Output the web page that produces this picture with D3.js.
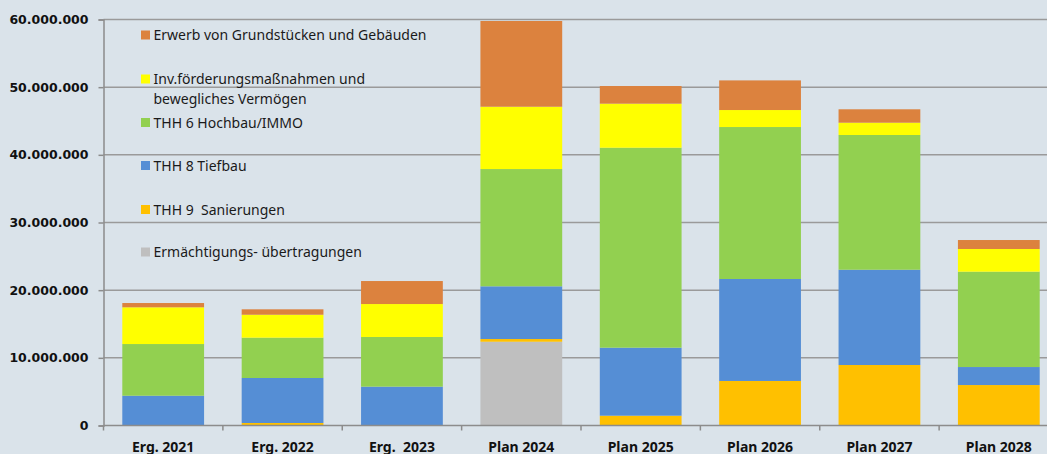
<!DOCTYPE html>
<html>
<head>
<meta charset="utf-8">
<script src="https://cdn.jsdelivr.net/npm/d3@7"></script>
<style>
body { margin: 0; background: #dae3ea; }
svg { display: block; }
.ytick text { font-family: 'DejaVu Sans', sans-serif; font-weight: bold; font-size: 12.5px; }
.xtick text { font-family: 'Noto Sans', sans-serif; font-weight: bold; font-size: 14px; white-space: pre; }
.legend text { font-family: 'Noto Sans', sans-serif; font-size: 14px; fill: #1a1a1a; white-space: pre; }
</style>
</head>
<body>
<svg id="chart"></svg>
<script>
// categories along x
const categories = ['Erg. 2021', 'Erg. 2022', 'Erg.  2023', 'Plan 2024', 'Plan 2025', 'Plan 2026', 'Plan 2027', 'Plan 2028'];

// series, bottom to top of the stack (values in EUR)
const ermaechtigung = [0, 0, 0, 12380000, 0, 0, 0, 0];
const sanierungen   = [50000, 370000, 30000, 400000, 1450000, 6580000, 8940000, 5980000];
const tiefbau       = [4350000, 6650000, 5710000, 7790000, 10050000, 15070000, 14080000, 2660000];
const hochbau       = [7640000, 5960000, 7340000, 17330000, 29550000, 22460000, 19910000, 14090000];
const invFoerderung = [5430000, 3390000, 4870000, 9210000, 6510000, 2510000, 1820000, 3350000];
const erwerb        = [630000, 800000, 3400000, 12670000, 2610000, 4380000, 1980000, 1330000];

const yTicks = [0, 10000000, 20000000, 30000000, 40000000, 50000000, 60000000];

const series = [
  { key: 'ermaechtigung', values: ermaechtigung, color: '#bfbfbf' },
  { key: 'sanierungen', values: sanierungen, color: '#ffc000' },
  { key: 'tiefbau', values: tiefbau, color: '#558ed5' },
  { key: 'hochbau', values: hochbau, color: '#92d050' },
  { key: 'invFoerderung', values: invFoerderung, color: '#ffff00' },
  { key: 'erwerb', values: erwerb, color: '#dc823e' }
];

// legend entries, top to bottom
const legendItems = [
  { lines: ['Erwerb von Grundstücken und Gebäuden'], color: '#dc823e' },
  { lines: ['Inv.förderungsmaßnahmen und', 'bewegliches Vermögen'], color: '#ffff00' },
  { lines: ['THH 6 Hochbau/IMMO'], color: '#92d050' },
  { lines: ['THH 8 Tiefbau'], color: '#558ed5' },
  { lines: ['THH 9  Sanierungen'], color: '#ffc000' },
  { lines: ['Ermächtigungs- übertragungen'], color: '#bfbfbf' }
];

const width = 1047, height = 454;
const svg = d3.select('#chart').attr('width', width).attr('height', height);

const x = d3.scaleBand().domain(categories).range([103.5, 1058.5]).paddingInner(0.315).paddingOuter(0.1575);
const y = d3.scaleLinear().domain([0, 60000000]).range([425.5, 19.5]);

// build stacked table
const table = categories.map((c, i) => {
  const row = { cat: c };
  series.forEach(s => { row[s.key] = s.values[i]; });
  return row;
});
const stacked = d3.stack().keys(series.map(s => s.key))(table);

// gridlines
svg.append('g')
  .selectAll('line')
  .data(yTicks.filter(d => d > 0))
  .enter()
  .append('line')
  .attr('x1', 103.5).attr('x2', width)
  .attr('y1', d => y(d)).attr('y2', d => y(d))
  .attr('stroke', '#9a9a9a').attr('stroke-width', 1.5);

// bars
stacked.forEach((layer, li) => {
  svg.append('g')
    .selectAll('rect')
    .data(layer)
    .enter()
    .append('rect')
    .attr('x', d => x(d.data.cat))
    .attr('width', x.bandwidth())
    .attr('y', d => y(d[1]))
    .attr('height', d => Math.max(0, y(d[0]) - y(d[1])))
    .attr('fill', series[li].color);
});

// y axis
const yAxis = d3.axisLeft(y).tickValues(yTicks).tickSize(5).tickPadding(10)
  .tickFormat(d => d === 0 ? '0' : d3.format(',')(d).replace(/,/g, '.'));
const yg = svg.append('g').attr('class', 'ytick').attr('transform', 'translate(103.5,0)').call(yAxis);
yg.select('.domain').attr('stroke', '#8c8c8c').attr('stroke-width', 1.5);
yg.selectAll('.tick line').attr('stroke', '#8c8c8c').attr('stroke-width', 1.5);
yg.selectAll('.tick text').attr('fill', '#111');

// x axis line + ticks between categories
const xg = svg.append('g').attr('class', 'xtick');
xg.append('line')
  .attr('x1', 103.5).attr('x2', width)
  .attr('y1', y(0)).attr('y2', y(0))
  .attr('stroke', '#8c8c8c').attr('stroke-width', 1.5);
const step = x.step();
xg.selectAll('.sep')
  .data(categories)
  .enter()
  .append('line')
  .attr('x1', (d, i) => 103.5 + i * step)
  .attr('x2', (d, i) => 103.5 + i * step)
  .attr('y1', y(0)).attr('y2', y(0) + 5)
  .attr('stroke', '#8c8c8c').attr('stroke-width', 1.5);
xg.selectAll('text')
  .data(categories)
  .enter()
  .append('text')
  .attr('x', d => x(d) + x.bandwidth() / 2)
  .attr('y', 451.5)
  .attr('text-anchor', 'middle')
  .attr('fill', '#111')
  .text(d => d);

// legend
const legendY = [35, 79, 122.5, 165.5, 209.5, 252];
const lg = svg.append('g').attr('class', 'legend');
legendItems.forEach((item, i) => {
  lg.append('rect')
    .attr('x', 141).attr('y', legendY[i] - 4.5)
    .attr('width', 9).attr('height', 9)
    .attr('fill', item.color);
  item.lines.forEach((line, j) => {
    lg.append('text')
      .attr('x', 153.5)
      .attr('y', legendY[i] + 5 + j * 20)
      .text(line);
  });
});
</script>
</body>
</html>
